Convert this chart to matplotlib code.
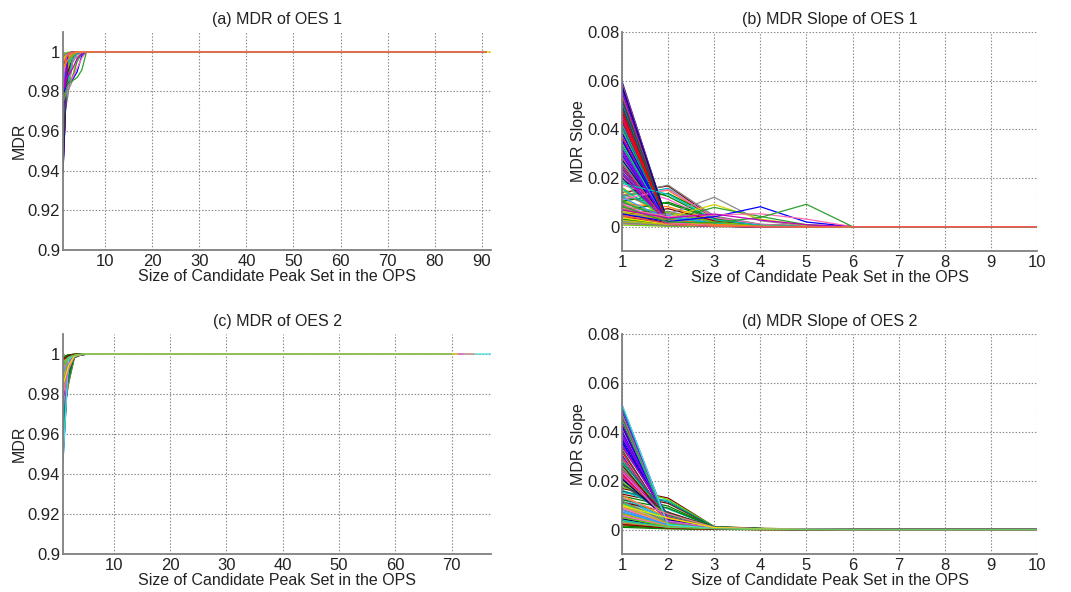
import numpy as np
import matplotlib
matplotlib.use("Agg")
import matplotlib.pyplot as plt

plt.rcParams['font.family'] = ['Liberation Sans', 'DejaVu Sans']

# ---------------------------------------------------------------------------
# MDR slope of each sample for candidate peak set sizes 1..5 (size >= 6 -> 0)
# ---------------------------------------------------------------------------
oes1_slopes = [
    (0.0597, 0.0012, 0.0003, 0, 0), (0.0081, 0.0021, 0.0006, 0, 0),
    (0.0352, 0.0009, 0.0002, 0, 0), (0.0123, 0.0158, 0.0031, 0.0004, 0),
    (0.0046, 0.0008, 0.0002, 0, 0), (0.0534, 0.0015, 0.0004, 0, 0),
    (0.0218, 0.0017, 0.0005, 0, 0), (0.0097, 0.0042, 0.0011, 0.0002, 0),
    (0.0428, 0.0010, 0.0002, 0, 0), (0.0029, 0.0005, 0.0001, 0, 0),
    (0.0585, 0.0014, 0.0003, 0, 0), (0.0141, 0.0167, 0.0036, 0.0006, 0),
    (0.0268, 0.0011, 0.0003, 0, 0), (0.0062, 0.0027, 0.0009, 0.0002, 0),
    (0.0473, 0.0013, 0.0004, 0, 0), (0.0108, 0.0019, 0.0005, 0, 0),
    (0.0391, 0.0008, 0.0002, 0, 0), (0.0017, 0.0004, 0.0001, 0, 0),
    (0.0553, 0.0016, 0.0003, 0, 0), (0.0186, 0.0124, 0.0028, 0.0005, 0),
    (0.0312, 0.0010, 0.0002, 0, 0), (0.0074, 0.0035, 0.0013, 0.0003, 0),
    (0.0449, 0.0012, 0.0003, 0, 0), (0.0115, 0.0022, 0.0007, 0.0001, 0),
    (0.0236, 0.0014, 0.0004, 0, 0), (0.0038, 0.0011, 0.0004, 0.0001, 0),
    (0.0571, 0.0009, 0.0002, 0, 0), (0.0131, 0.0149, 0.0033, 0.0008, 0.0002),
    (0.0334, 0.0013, 0.0003, 0, 0), (0.0089, 0.0018, 0.0006, 0, 0),
    (0.0402, 0.0011, 0.0003, 0, 0), (0.0055, 0.0063, 0.0021, 0.0004, 0),
    (0.0497, 0.0010, 0.0002, 0, 0), (0.0162, 0.0026, 0.0008, 0.0002, 0),
    (0.0287, 0.0012, 0.0003, 0, 0), (0.0023, 0.0007, 0.0002, 0, 0),
    (0.0518, 0.0015, 0.0004, 0, 0), (0.0104, 0.0137, 0.0040, 0.0009, 0.0002),
    (0.0371, 0.0008, 0.0002, 0, 0), (0.0068, 0.0024, 0.0007, 0.0001, 0),
    (0.0459, 0.0013, 0.0003, 0, 0), (0.0148, 0.0031, 0.0010, 0.0003, 0),
    (0.0251, 0.0011, 0.0003, 0, 0), (0.0011, 0.0003, 0.0001, 0, 0),
    (0.0562, 0.0012, 0.0002, 0, 0), (0.0093, 0.0082, 0.0027, 0.0006, 0.0001),
    (0.0323, 0.0009, 0.0002, 0, 0), (0.0051, 0.0016, 0.0005, 0, 0),
    (0.0417, 0.0014, 0.0004, 0, 0), (0.0127, 0.0171, 0.0044, 0.0010, 0.0003),
    (0.0201, 0.0015, 0.0004, 0, 0), (0.0034, 0.0009, 0.0003, 0, 0),
    (0.0541, 0.0011, 0.0003, 0, 0), (0.0086, 0.0046, 0.0015, 0.0004, 0.0001),
    (0.0296, 0.0010, 0.0002, 0, 0), (0.0119, 0.0095, 0.0030, 0.0007, 0),
    (0.0484, 0.0012, 0.0003, 0, 0), (0.0058, 0.0020, 0.0006, 0.0001, 0),
    (0.0362, 0.0009, 0.0002, 0, 0), (0.0019, 0.0006, 0.0002, 0, 0),
    (0.0437, 0.0013, 0.0004, 0, 0), (0.0172, 0.0112, 0.0025, 0.0005, 0),
    (0.0226, 0.0012, 0.0003, 0, 0), (0.0077, 0.0029, 0.0009, 0.0002, 0),
    (0.0509, 0.0014, 0.0003, 0, 0), (0.0043, 0.0013, 0.0004, 0, 0),
    (0.0343, 0.0010, 0.0002, 0, 0), (0.0136, 0.0053, 0.0018, 0.0004, 0.0001),
    (0.0276, 0.0013, 0.0003, 0, 0), (0.0007, 0.0002, 0.0001, 0, 0),
    (0.0590, 0.0010, 0.0002, 0, 0), (0.0101, 0.0034, 0.0012, 0.0003, 0),
    (0.0384, 0.0012, 0.0003, 0, 0), (0.0064, 0.0101, 0.0034, 0.0008, 0.0002),
    (0.0466, 0.0009, 0.0002, 0, 0), (0.0155, 0.0040, 0.0013, 0.0003, 0),
    (0.0243, 0.0016, 0.0004, 0, 0), (0.0027, 0.0008, 0.0002, 0, 0),
    (0.0526, 0.0013, 0.0003, 0, 0), (0.0112, 0.0153, 0.0038, 0.0009, 0.0002),
    (0.0305, 0.0011, 0.0003, 0, 0), (0.0071, 0.0017, 0.0005, 0.0001, 0),
    (0.0411, 0.0010, 0.0002, 0, 0), (0.0049, 0.0074, 0.0024, 0.0005, 0.0001),
    (0.0193, 0.0013, 0.0004, 0, 0), (0.0015, 0.0005, 0.0001, 0, 0),
    (0.0577, 0.0012, 0.0003, 0, 0), (0.0084, 0.0058, 0.0019, 0.0004, 0),
    (0.0259, 0.0010, 0.0002, 0, 0), (0.0121, 0.0027, 0.0008, 0.0002, 0),
    (0.0356, 0.0014, 0.0003, 0, 0), (0.0032, 0.0012, 0.0004, 0.0001, 0),
    (0.0443, 0.0011, 0.0003, 0, 0), (0.0178, 0.0133, 0.0029, 0.0006, 0.0001),
    (0.0212, 0.0012, 0.0003, 0, 0), (0.0059, 0.0022, 0.0007, 0.0001, 0),
    (0.0491, 0.0013, 0.0004, 0, 0), (0.0094, 0.0015, 0.0005, 0, 0),
    (0.0318, 0.0010, 0.0002, 0, 0), (0.0041, 0.0030, 0.0010, 0.0002, 0),
]
# samples whose slope peaks late, plus the ones drawn last (on top)
oes1_late_slopes = [
    (0.0044, 0.0052, 0.0121, 0.0024, 0.0003),
    (0.0063, 0.0038, 0.0091, 0.0031, 0.0005),
    (0.0102, 0.0029, 0.0079, 0.0042, 0.0008),
    (0.0052, 0.0021, 0.0041, 0.0082, 0.0019),
    (0.0076, 0.0041, 0.0049, 0.0053, 0.0031),
    (0.0083, 0.0019, 0.0016, 0.0038, 0.0092),
    (0.0069, 0.0036, 0.0052, 0.0027, 0.0008),
    (0.0036, 0.0010, 0.0003, 0, 0),
    (0.0047, 0.0011, 0.0003, 0, 0),
]
oes1_late_colors = ['#8c8c8c', '#d4d400', '#2ca02c', '#0000ff', '#ff69b4',
                    '#2ca02c', '#bf00bf', '#e6e600', '#f25555']
oes1_late_sizes = [91, 91, 91, 91, 91, 91, 91, 92, 91]
oes1_size = 91

oes2_slopes = [
    (0.0508, 0.0021, 0.0006, 0.0002, 0.0001), (0.0064, 0.0013, 0.0004, 0.0001, 0),
    (0.0317, 0.0038, 0.0008, 0.0003, 0.0001), (0.0152, 0.0118, 0.0011, 0.0004, 0.0001),
    (0.0028, 0.0007, 0.0002, 0.0001, 0), (0.0476, 0.0016, 0.0005, 0.0002, 0),
    (0.0203, 0.0049, 0.0009, 0.0003, 0.0001), (0.0091, 0.0026, 0.0006, 0.0002, 0),
    (0.0389, 0.0031, 0.0007, 0.0002, 0.0001), (0.0012, 0.0004, 0.0001, 0, 0),
    (0.0462, 0.0019, 0.0005, 0.0002, 0), (0.0168, 0.0129, 0.0012, 0.0005, 0.0002),
    (0.0254, 0.0044, 0.0008, 0.0003, 0), (0.0047, 0.0011, 0.0003, 0.0001, 0),
    (0.0356, 0.0052, 0.0009, 0.0003, 0.0001), (0.0118, 0.0034, 0.0007, 0.0002, 0),
    (0.0291, 0.0027, 0.0006, 0.0002, 0), (0.0072, 0.0018, 0.0005, 0.0002, 0),
    (0.0443, 0.0023, 0.0006, 0.0002, 0.0001), (0.0137, 0.0096, 0.0010, 0.0004, 0.0001),
    (0.0226, 0.0036, 0.0008, 0.0003, 0), (0.0035, 0.0009, 0.0003, 0.0001, 0),
    (0.0418, 0.0029, 0.0007, 0.0002, 0), (0.0104, 0.0022, 0.0006, 0.0002, 0),
    (0.0183, 0.0061, 0.0010, 0.0004, 0.0001), (0.0056, 0.0015, 0.0004, 0.0001, 0),
    (0.0348, 0.0041, 0.0008, 0.0003, 0.0001), (0.0019, 0.0006, 0.0002, 0, 0),
    (0.0497, 0.0014, 0.0004, 0.0001, 0), (0.0145, 0.0107, 0.0011, 0.0004, 0.0001),
    (0.0271, 0.0033, 0.0007, 0.0002, 0), (0.0083, 0.0020, 0.0005, 0.0002, 0),
    (0.0371, 0.0047, 0.0009, 0.0003, 0.0001), (0.0041, 0.0012, 0.0003, 0.0001, 0),
    (0.0212, 0.0055, 0.0010, 0.0003, 0.0001), (0.0126, 0.0039, 0.0008, 0.0003, 0),
    (0.0305, 0.0024, 0.0006, 0.0002, 0), (0.0009, 0.0003, 0.0001, 0, 0),
    (0.0431, 0.0032, 0.0007, 0.0002, 0.0001), (0.0161, 0.0084, 0.0010, 0.0004, 0.0001),
    (0.0239, 0.0042, 0.0008, 0.0003, 0), (0.0067, 0.0017, 0.0005, 0.0001, 0),
    (0.0338, 0.0058, 0.0009, 0.0003, 0.0001), (0.0097, 0.0028, 0.0007, 0.0002, 0),
    (0.0484, 0.0018, 0.0005, 0.0002, 0), (0.0031, 0.0008, 0.0002, 0.0001, 0),
    (0.0192, 0.0046, 0.0009, 0.0003, 0.0001), (0.0112, 0.0071, 0.0009, 0.0003, 0.0001),
    (0.0283, 0.0037, 0.0008, 0.0002, 0), (0.0052, 0.0014, 0.0004, 0.0001, 0),
    (0.0402, 0.0026, 0.0006, 0.0002, 0), (0.0174, 0.0123, 0.0012, 0.0005, 0.0002),
    (0.0247, 0.0050, 0.0009, 0.0003, 0.0001), (0.0078, 0.0021, 0.0006, 0.0002, 0),
    (0.0362, 0.0035, 0.0007, 0.0002, 0), (0.0015, 0.0005, 0.0001, 0, 0),
    (0.0455, 0.0025, 0.0006, 0.0002, 0.0001), (0.0133, 0.0043, 0.0008, 0.0003, 0),
    (0.0219, 0.0064, 0.0010, 0.0004, 0.0001), (0.0061, 0.0016, 0.0004, 0.0001, 0),
    (0.0327, 0.0030, 0.0007, 0.0002, 0), (0.0088, 0.0024, 0.0006, 0.0002, 0),
    (0.0379, 0.0053, 0.0009, 0.0003, 0.0001), (0.0024, 0.0007, 0.0002, 0.0001, 0),
    (0.0158, 0.0112, 0.0011, 0.0004, 0.0001), (0.0263, 0.0040, 0.0008, 0.0003, 0),
    (0.0109, 0.0031, 0.0007, 0.0002, 0), (0.0471, 0.0020, 0.0005, 0.0002, 0),
    (0.0044, 0.0010, 0.0003, 0.0001, 0), (0.0198, 0.0057, 0.0010, 0.0003, 0.0001),
    (0.0298, 0.0045, 0.0008, 0.0003, 0.0001), (0.0071, 0.0019, 0.0005, 0.0001, 0),
    (0.0424, 0.0028, 0.0006, 0.0002, 0), (0.0122, 0.0088, 0.0010, 0.0004, 0.0001),
    (0.0231, 0.0033, 0.0007, 0.0002, 0), (0.0037, 0.0011, 0.0003, 0.0001, 0),
    (0.0343, 0.0049, 0.0009, 0.0003, 0.0001), (0.0095, 0.0025, 0.0006, 0.0002, 0),
    (0.0187, 0.0069, 0.0010, 0.0004, 0.0001), (0.0058, 0.0013, 0.0004, 0.0001, 0),
    (0.0395, 0.0034, 0.0007, 0.0002, 0), (0.0141, 0.0047, 0.0009, 0.0003, 0),
    (0.0276, 0.0060, 0.0010, 0.0003, 0.0001), (0.0021, 0.0006, 0.0002, 0, 0),
    (0.0449, 0.0022, 0.0006, 0.0002, 0), (0.0116, 0.0029, 0.0007, 0.0002, 0),
    (0.0208, 0.0039, 0.0008, 0.0003, 0), (0.0049, 0.0012, 0.0004, 0.0001, 0),
]
oes2_late_slopes = [
    (0.0512, 0.0019, 0.0005, 0.0002, 0.0001),
    (0.0131, 0.0064, 0.0009, 0.0003, 0.0001),
    (0.0236, 0.0035, 0.0008, 0.0003, 0.0001),
    (0.0098, 0.0047, 0.0008, 0.0003, 0),
    (0.0031, 0.0009, 0.0004, 0.0002, 0.0001),
]
oes2_late_colors = ['#40e0e0', '#f08080', '#e060e0', '#e6e600', '#66c266']
oes2_late_sizes = [77, 74, 72, 71, 70]
oes2_size = 70

palette = ['#0000ff', '#008000', '#ff0000', '#00bfbf', '#bf00bf', '#bfbf00',
           '#404040', '#ff66cc', '#7f00ff', '#ff8000', '#007f7f', '#800000',
           '#00cc66', '#808080', '#000080', '#66cc00', '#cc3366', '#3399ff']

panels = [
    ("(a) MDR of OES 1", "(b) MDR Slope of OES 1", 92,
     [10, 20, 30, 40, 50, 60, 70, 80, 90]),
    ("(c) MDR of OES 2", "(d) MDR Slope of OES 2", 77,
     [10, 20, 30, 40, 50, 60, 70]),
]
mdr_yticks = [0.9, 0.92, 0.94, 0.96, 0.98, 1.0]
mdr_ylabels = ['0.9', '0.92', '0.94', '0.96', '0.98', '1']
slope_yticks = [0, 0.02, 0.04, 0.06, 0.08]
slope_ylabels = ['0', '0.02', '0.04', '0.06', '0.08']
slope_xticks = [1, 2, 3, 4, 5, 6, 7, 8, 9, 10]

XLABEL = "Size of Candidate Peak Set in the OPS"
INK = '#222222'


def curves(slopes, size):
    """MDR curve and its slope for one sample with `size` candidate peaks."""
    s = np.asarray(slopes, dtype=float)
    remaining = np.cumsum(s[::-1])[::-1]
    mdr = np.concatenate([1.0 - remaining, np.ones(size - len(s))])
    slope = np.concatenate([s, np.zeros(size - 1 - len(s))])
    return mdr, slope


def style(ax, xlim, ylim, xticks, yticks, ylabels, title, ylabel):
    ax.set_xlim(*xlim)
    ax.set_ylim(*ylim)
    ax.set_xticks(xticks)
    ax.set_xticklabels([str(t) for t in xticks])
    ax.set_yticks(yticks)
    ax.set_yticklabels(ylabels)
    for side in ('top', 'right'):
        ax.spines[side].set_visible(False)
    for side in ('left', 'bottom'):
        ax.spines[side].set_color('#7f7f7f')
        ax.spines[side].set_linewidth(1.3)
        ax.spines[side].set_zorder(5)
    ax.grid(True, color='#8a8a8a', linestyle=(0, (1.3, 1.6)), linewidth=0.8)
    ax.set_axisbelow(True)
    ax.tick_params(axis='both', length=0, labelsize=12, colors=INK)
    ax.tick_params(axis='x', pad=3)
    ax.tick_params(axis='y', pad=2)
    ax.set_title(title, fontsize=11.5, color=INK, pad=6)
    ax.set_xlabel(XLABEL, fontsize=11.5, color=INK, labelpad=0)
    ax.set_ylabel(ylabel, fontsize=11.5, color=INK, labelpad=0.5)


fig = plt.figure(figsize=(10.71, 5.92), dpi=100)
ax_a = fig.add_axes([0.0588, 0.5777, 0.3997, 0.3682])
ax_b = fig.add_axes([0.5808, 0.5760, 0.3875, 0.3699])
ax_c = fig.add_axes([0.0588, 0.0642, 0.3997, 0.3716])
ax_d = fig.add_axes([0.5808, 0.0642, 0.3875, 0.3716])

groups = [
    (ax_a, ax_b, oes1_slopes, oes1_size, oes1_late_slopes, oes1_late_colors,
     oes1_late_sizes),
    (ax_c, ax_d, oes2_slopes, oes2_size, oes2_late_slopes, oes2_late_colors,
     oes2_late_sizes),
]

LW = 0.9
for (ax_m, ax_s, rows, size, late, late_c, late_n), (t_m, t_s, xmax, xt) in zip(groups, panels):
    entries = [(r, palette[i % len(palette)], size) for i, r in enumerate(rows)]
    entries += list(zip(late, late_c, late_n))
    for r, c, n in entries:
        mdr, slope = curves(r, n)
        ax_m.plot(np.arange(1, n + 1), mdr, color=c, lw=LW)
        ax_s.plot(np.arange(1, n), slope, color=c, lw=LW)
    style(ax_m, (1, xmax), (0.9, 1.01), xt, mdr_yticks, mdr_ylabels, t_m, "MDR")
    style(ax_s, (1, 10), (-0.01, 0.08), slope_xticks, slope_yticks,
          slope_ylabels, t_s, "MDR Slope")

fig.savefig("out.png", dpi=100)
